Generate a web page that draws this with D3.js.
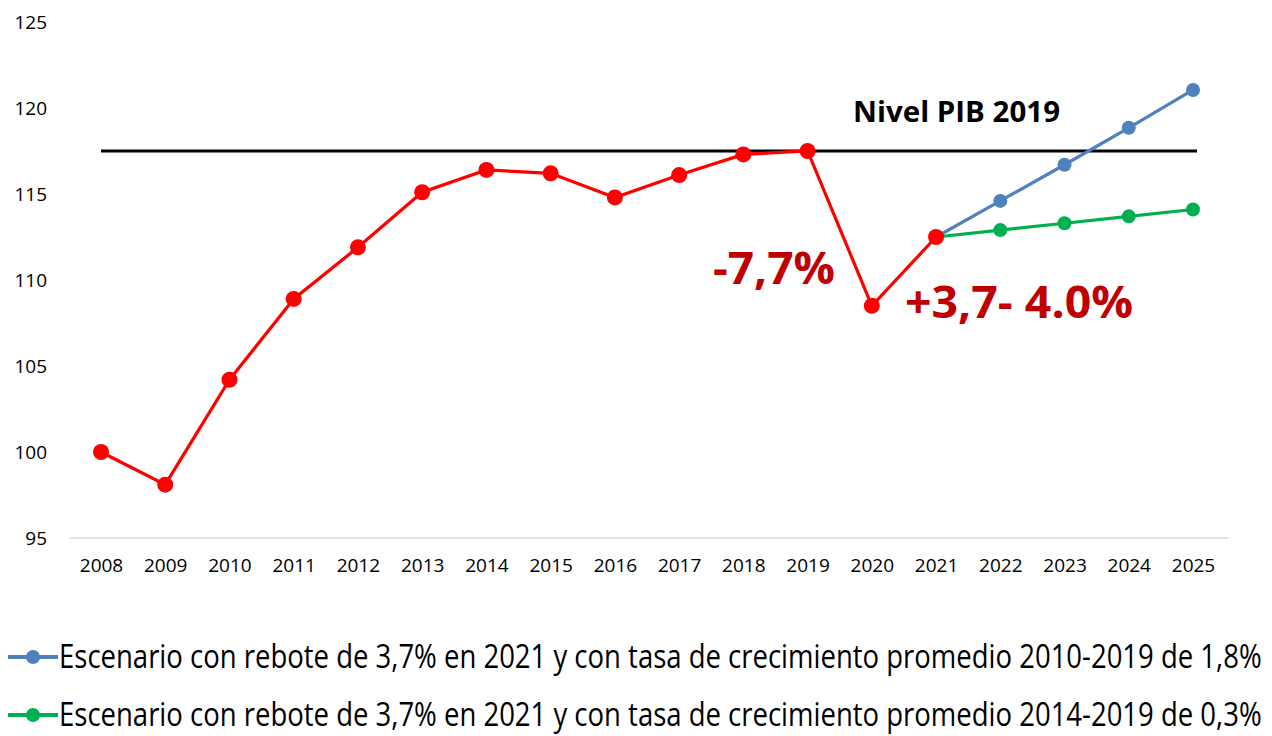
<!DOCTYPE html>
<html>
<head>
<meta charset="utf-8">
<script src="https://cdn.jsdelivr.net/npm/d3@7"></script>
<style>
  body { margin: 0; background: #fff; }
  text { font-family: "Open Sans", "Liberation Sans", sans-serif; }
</style>
</head>
<body>
<div id="app"></div>
<script>
const years = d3.range(2008, 2026).map(String);
// PIB index (2008 = 100), observed + 2021 rebound
const realYears = years.slice(0, 14);
const realValues = [100, 98.1, 104.2, 108.9, 111.9, 115.1, 116.4, 116.2, 114.8, 116.1, 117.3, 117.5, 108.5, 112.5];
const scenYears = ["2021", "2022", "2023", "2024", "2025"];
const blueValues = [112.5, 114.6, 116.7, 118.85, 121.05];
const greenValues = [112.5, 112.9, 113.3, 113.7, 114.1];
const level2019 = 117.5;
const yTicks = [95, 100, 105, 110, 115, 120, 125];
const legendLabels = [
  "Escenario con rebote de 3,7% en 2021 y con tasa de crecimiento promedio 2010-2019 de 1,8%",
  "Escenario con rebote de 3,7% en 2021 y con tasa de crecimiento promedio 2014-2019 de 0,3%"
];

const width = 1272;
const height = 736;
const red = "#ff0000";
const blue = "#4f81bd";
const green = "#00b050";
const darkRed = "#c00000";

const svg = d3.select('#app')
              .append('svg')
              .attr('width', width)
              .attr('height', height)

const x = d3.scalePoint()
            .domain(years)
            .range([101, 1193])

const y = d3.scaleLinear()
            .domain([95, 125])
            .range([538, 22])

// baseline
svg.append('line')
   .attr('x1', 70).attr('x2', 1228)
   .attr('y1', y(95)).attr('y2', y(95))
   .attr('stroke', '#d9d9d9')
   .attr('stroke-width', 1.5)

// y axis labels
const yAxis = svg.append('g')
   .attr('transform', 'translate(47,0)')
   .call(d3.axisLeft(y).tickValues(yTicks).tickSize(0).tickPadding(0))
yAxis.select('.domain').remove()
yAxis.selectAll('text')
     .attr('font-size', 19)
     .attr('fill', '#000')

// x axis labels
const xAxis = svg.append('g')
   .attr('transform', `translate(0,${y(95)})`)
   .call(d3.axisBottom(x).tickSize(0).tickPadding(21))
xAxis.select('.domain').remove()
xAxis.selectAll('text')
     .attr('font-size', 19)
     .attr('fill', '#000')

// 2019 level line
svg.append('line')
   .attr('x1', x("2008")).attr('x2', x("2025") + 4)
   .attr('y1', y(level2019)).attr('y2', y(level2019))
   .attr('stroke', '#000')
   .attr('stroke-width', 3)

svg.append('text')
   .attr('x', 853).attr('y', 122)
   .attr('font-size', 28)
   .attr('font-weight', 'bold')
   .attr('textLength', 207)
   .attr('lengthAdjust', 'spacingAndGlyphs')
   .text('Nivel PIB 2019')

const line = d3.line()
               .x(d => x(d[0]))
               .y(d => y(d[1]))

function drawSeries(yrs, vals, color, r) {
  const pts = yrs.map((yr, i) => [yr, vals[i]]);
  svg.append('path')
     .attr('d', line(pts))
     .attr('fill', 'none')
     .attr('stroke', color)
     .attr('stroke-width', 3.2)
  svg.append('g')
     .selectAll('circle')
     .data(pts)
     .enter()
     .append('circle')
     .attr('cx', d => x(d[0]))
     .attr('cy', d => y(d[1]))
     .attr('r', r)
     .attr('fill', color)
}

drawSeries(scenYears, blueValues, blue, 7)
drawSeries(scenYears, greenValues, green, 7)
drawSeries(realYears, realValues, red, 8)

// annotations
svg.append('text')
   .attr('x', 713).attr('y', 284)
   .attr('font-size', 44)
   .attr('font-weight', 'bold')
   .attr('fill', darkRed)
   .attr('textLength', 122)
   .attr('lengthAdjust', 'spacingAndGlyphs')
   .text('-7,7%')

svg.append('text')
   .attr('x', 905).attr('y', 318)
   .attr('font-size', 44)
   .attr('font-weight', 'bold')
   .attr('fill', darkRed)
   .attr('textLength', 228)
   .attr('lengthAdjust', 'spacingAndGlyphs')
   .text('+3,7- 4.0%')

// legend (text squeezed horizontally to mimic the condensed original font)
const legend = svg.append('g')
const legendColors = [blue, green];
const legendY = [657, 715];
const legendWidth = 1203;
legendLabels.forEach((lab, i) => {
  const g = legend.append('g').attr('transform', `translate(0,${legendY[i]})`)
  g.append('line')
   .attr('x1', 8).attr('x2', 58)
   .attr('stroke', legendColors[i])
   .attr('stroke-width', 4)
  g.append('circle')
   .attr('cx', 33).attr('r', 7)
   .attr('fill', legendColors[i])
  const t = g.append('text')
   .attr('x', 0).attr('y', 0)
   .attr('font-size', 32)
   .attr('fill', '#000')
   .text(lab)
  const w = t.node().getComputedTextLength()
  t.attr('transform', `translate(59,11) scale(${legendWidth / w},1)`)
})
</script>
</body>
</html>
